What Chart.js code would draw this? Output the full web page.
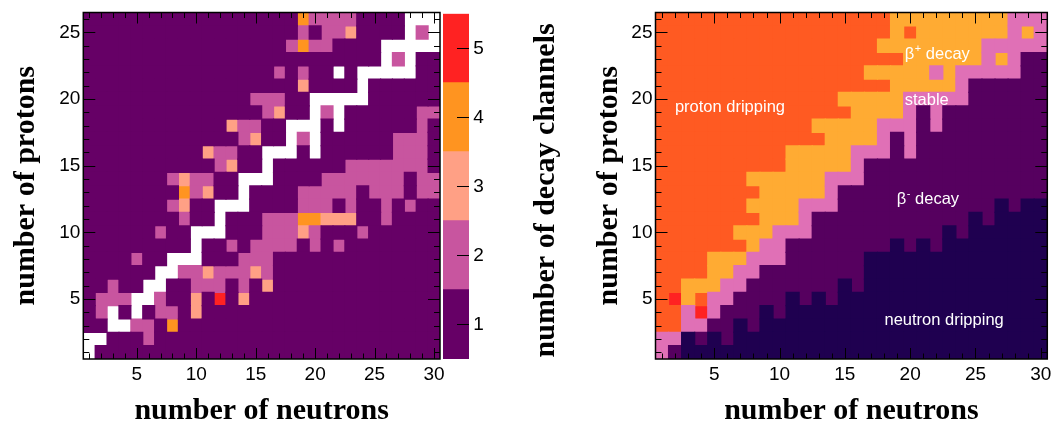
<!DOCTYPE html>
<html>
<head>
<meta charset="utf-8">
<script src="https://cdn.jsdelivr.net/npm/chart.js@4.4.1/dist/chart.umd.min.js"></script>
<style>
  html, body { margin: 0; padding: 0; background: #fff; }
  #wrap { position: relative; width: 1058px; height: 428px; overflow: hidden; }
  canvas { position: absolute; top: 0; }
</style>
</head>
<body>
<div id="wrap">
  <canvas id="channelChart" width="452" height="428" style="left:0"></canvas>
  <canvas id="channelScale" width="118" height="428" style="left:442px"></canvas>
  <canvas id="modeChart" width="498" height="428" style="left:560px"></canvas>
</div>
<script>
const neutrons = [1, 2, 3, 4, 5, 6, 7, 8, 9, 10, 11, 12, 13, 14, 15, 16, 17, 18, 19, 20, 21, 22, 23, 24, 25, 26, 27, 28, 29, 30];
const protons = [1, 2, 3, 4, 5, 6, 7, 8, 9, 10, 11, 12, 13, 14, 15, 16, 17, 18, 19, 20, 21, 22, 23, 24, 25, 26];
const channelLevels = [1, 2, 3, 4, 5];
const channelColors = ['#660066', '#c8559f', '#ffa085', '#ff9420', '#ff2222'];
const modeColors = ['#1f0050', '#56005f', '#e070b6', '#ffab33', '#ff5a22', '#ff2222'];

// number of decay channels, one string per row from Z = 26 down to Z = 1 (N = 1..30), 0 = empty
const channelRows = [
  '1111111111 1111111142 2221111000',
  '1111111111 1111111121 2231111020',
  '1111111111 1111111242 2111100000',
  '1111111111 1111111111 1111102011',
  '1111111111 1111112121 1010000011',
  '1111111111 1111111131 1110111111',
  '1111111111 1111222110 0000111111',
  '1111111111 1111123110 2011111122',
  '1111111111 1132211000 1011111121',
  '1111111111 1112311020 1111112221',
  '1111111111 3221100010 1111112221',
  '1111111111 1231101111 1122222221',
  '1111111232 2110001111 2222222122',
  '1111111142 3110111122 2221222122',
  '1111111231 1000111122 2121121211',
  '1111111121 1011122244 3331121111',
  '1111112110 0011122232 1112111111',
  '1111111110 1121222212 1211111111',
  '1111211000 1112221111 1111111111',
  '1111110022 3222321111 1111111111',
  '1121100112 2212131111 1111111111',
  '1222002113 1513111111 1111111111',
  '1201012213 1111111111 1111111111',
  '1100221411 1111111111 1111111111',
  '0011121111 1111111111 1111111111',
  '0111111111 1111111111 1111111111'
];

// decay mode: 1 neutron dripping, 2 beta-, 3 stable, 4 beta+, 5 proton dripping, 6 other
const modeRows = [
  '5555555555 5555555544 4444444333',
  '5555555555 5555555545 4444444343',
  '5555555555 5555555444 4444433333',
  '5555555555 5555555554 4444434322',
  '5555555555 5555554444 4343333322',
  '5555555555 5555555544 4443222222',
  '5555555555 5555444443 3333222222',
  '5555555555 5555544443 2322222222',
  '5555555555 5544444333 2322222222',
  '5555555555 5554444323 2222222222',
  '5555555555 4444433323 2222222222',
  '5555555555 4444432222 2222222222',
  '5555555444 4443332222 2222222222',
  '5555555544 4443222222 2222222222',
  '5555555444 4333222222 2222221211',
  '5555555544 4322222222 2222121111',
  '5555554443 3322222222 2212111111',
  '5555555433 2222222212 1211111111',
  '5555444333 2222221111 1111111111',
  '5555443322 2222221111 1111111111',
  '5544433222 2222121111 1111111111',
  '5645332222 1212111111 1111111111',
  '5536322212 1111111111 1111111111',
  '5533221211 1111111111 1111111111',
  '3312121111 1111111111 1111111111',
  '3211111111 1111111111 1111111111'
];

Chart.defaults.font.family = 'Liberation Sans';
Chart.defaults.color = '#000';

function cellDatasets(rows, colors) {
  return colors.map((color, k) => {
    const data = [];
    rows.forEach((row, r) => {
      const z = protons[protons.length - 1 - r];
      row.replace(/ /g, '').split('').forEach((ch, i) => {
        if (Number(ch) === k + 1) data.push({ x: neutrons[i], y: [z - 0.5, z + 0.5] });
      });
    });
    return {
      data: data,
      backgroundColor: color,
      borderWidth: 0,
      inflateAmount: 0.6,
      grouped: false,
      barPercentage: 1,
      categoryPercentage: 1
    };
  });
}

// ROOT style frame with inward ticks on every side
const frameTicks = {
  id: 'frameTicks',
  afterDatasetsDraw(chart, args, opts) {
    const { ctx, chartArea: a, scales } = chart;
    ctx.save();
    ctx.strokeStyle = '#000';
    ctx.lineWidth = 1;
    ctx.beginPath();
    if (opts.xLen) {
      scales.x.ticks.forEach(t => {
        const px = Math.round(scales.x.getPixelForValue(t.value)) + 0.5;
        const len = t.value % opts.step === 0 ? opts.xLen : opts.xLen / 2;
        ctx.moveTo(px, a.bottom); ctx.lineTo(px, a.bottom - len);
        ctx.moveTo(px, a.top); ctx.lineTo(px, a.top + len);
      });
    }
    scales.y.ticks.forEach(t => {
      const py = Math.round(scales.y.getPixelForValue(t.value)) + 0.5;
      const len = t.value % opts.step === 0 ? opts.yLen : opts.yLen / 2;
      if (!opts.rightOnly) { ctx.moveTo(a.left, py); ctx.lineTo(a.left + len, py); }
      ctx.moveTo(a.right, py); ctx.lineTo(a.right - len, py);
    });
    ctx.stroke();
    if (opts.frame) {
      ctx.lineWidth = 1.5;
      ctx.strokeRect(a.left, a.top, a.right - a.left, a.bottom - a.top);
    }
    ctx.restore();
  }
};

const regionLabels = {
  id: 'regionLabels',
  afterDatasetsDraw(chart, args, opts) {
    const { ctx, scales: { x, y } } = chart;
    ctx.save();
    ctx.fillStyle = '#fff';
    ctx.textBaseline = 'middle';
    opts.items.forEach(it => {
      let px = x.getPixelForValue(it.x);
      const py = y.getPixelForValue(it.y);
      ctx.font = '16.5px "Liberation Sans"';
      if (!it.sup) {
        ctx.textAlign = 'center';
        ctx.fillText(it.text, px, py);
        return;
      }
      ctx.textAlign = 'left';
      ctx.fillText('\u03b2', px, py);
      px += ctx.measureText('\u03b2').width + 0.5;
      ctx.font = '11px "Liberation Sans"';
      ctx.fillText(it.sup, px, py - 6);
      px += ctx.measureText(it.sup).width;
      ctx.font = '16.5px "Liberation Sans"';
      ctx.fillText(' ' + it.text, px, py);
    });
    ctx.restore();
  }
};

const paletteTitle = {
  id: 'paletteTitle',
  afterDraw(chart, args, opts) {
    const { ctx, chartArea: a } = chart;
    ctx.save();
    ctx.translate(a.right + 77.5, (a.top + a.bottom) / 2 + 4);
    ctx.rotate(-Math.PI / 2);
    ctx.font = 'bold 30px "Liberation Serif"';
    ctx.fillStyle = '#000';
    ctx.textAlign = 'center';
    ctx.textBaseline = 'middle';
    ctx.fillText(opts.text, 0, 0);
    ctx.restore();
  }
};

const titleFont = { family: 'Liberation Serif', size: 30, weight: 'bold', lineHeight: 1 };
const tickFont = { family: 'Liberation Sans', size: 19, lineHeight: 1 };

function heatScales(yAxisWidth, yTitlePad) {
  return {
    x: {
      type: 'linear',
      min: 0.5,
      max: 30.5,
      offset: false,
      afterBuildTicks: s => { s.ticks = neutrons.map(v => ({ value: v })); },
      afterFit: s => { s.height = 69; },
      grid: { display: false, drawTicks: false },
      border: { display: false },
      ticks: {
        autoSkip: false,
        maxRotation: 0,
        padding: 6.5,
        font: tickFont,
        callback: v => (v % 5 === 0 ? String(v) : '')
      },
      title: { display: true, text: 'number of neutrons', font: titleFont, padding: { top: 0, bottom: 1.5 } }
    },
    y: {
      type: 'linear',
      min: 0.5,
      max: 26.5,
      afterBuildTicks: s => { s.ticks = protons.map(v => ({ value: v })); },
      afterFit: s => { s.width = yAxisWidth; },
      grid: { display: false, drawTicks: false },
      border: { display: false },
      ticks: {
        autoSkip: false,
        padding: 3,
        font: tickFont,
        callback: v => (v % 5 === 0 ? String(v) : '')
      },
      title: { display: true, text: 'number of protons', font: titleFont, padding: { top: yTitlePad, bottom: 0 } }
    }
  };
}

new Chart(document.getElementById('channelChart'), {
  type: 'bar',
  data: { datasets: cellDatasets(channelRows, channelColors) },
  options: {
    responsive: false,
    animation: false,
    devicePixelRatio: 1,
    events: [],
    layout: { padding: { top: 11, right: 12, bottom: 0, left: 0 } },
    scales: heatScales(83.3, 11.5),
    plugins: {
      legend: { display: false },
      tooltip: { enabled: false },
      frameTicks: { frame: true, step: 5, xLen: 11, yLen: 12 }
    }
  },
  plugins: [frameTicks]
});

new Chart(document.getElementById('channelScale'), {
  type: 'bar',
  data: {
    labels: [''],
    datasets: channelLevels.map((v, i) => ({
      data: [[v - 0.5, v + 0.5]],
      backgroundColor: channelColors[i],
      borderWidth: 0,
      inflateAmount: 0.6,
      grouped: false,
      barPercentage: 1,
      categoryPercentage: 1
    }))
  },
  options: {
    responsive: false,
    animation: false,
    devicePixelRatio: 1,
    events: [],
    layout: { padding: { top: 11, right: 0, bottom: 69, left: 1 } },
    scales: {
      x: { display: false, offset: true },
      y: {
        position: 'right',
        min: 0.5,
        max: 5.5,
        afterBuildTicks: s => { s.ticks = channelLevels.map(v => ({ value: v })); },
        afterFit: s => { s.width = 91; },
        grid: { display: false, drawTicks: false },
        border: { display: false },
        ticks: { padding: 4.3, font: tickFont }
      }
    },
    plugins: {
      legend: { display: false },
      tooltip: { enabled: false },
      frameTicks: { frame: false, step: 1, xLen: 0, yLen: 12, rightOnly: true },
      paletteTitle: { text: 'number of decay channels' }
    }
  },
  plugins: [frameTicks, paletteTitle]
});

new Chart(document.getElementById('modeChart'), {
  type: 'bar',
  data: { datasets: cellDatasets(modeRows, modeColors) },
  options: {
    responsive: false,
    animation: false,
    devicePixelRatio: 1,
    events: [],
    layout: { padding: { top: 11, right: 10.5, bottom: 0, left: 0 } },
    scales: heatScales(95.5, 34),
    plugins: {
      legend: { display: false },
      tooltip: { enabled: false },
      frameTicks: { frame: true, step: 5, xLen: 11, yLen: 12 },
      regionLabels: {
        items: [
          { text: 'proton dripping', x: 6.2, y: 19.4 },
          { text: 'decay', sup: '+', x: 19.59, y: 23.35 },
          { text: 'stable', x: 21.27, y: 19.92 },
          { text: 'decay', sup: '-', x: 18.98, y: 12.46 },
          { text: 'neutron dripping', x: 22.6, y: 3.41 }
        ]
      }
    }
  },
  plugins: [frameTicks, regionLabels]
});
</script>
</body>
</html>
